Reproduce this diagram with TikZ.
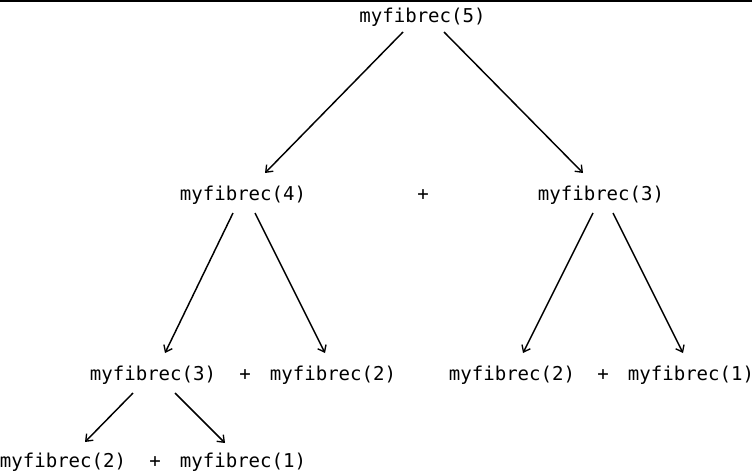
\documentclass[tikz,border=0pt]{standalone}
\usepackage{fontspec}
\setmonofont{DejaVu Sans Mono}
\usetikzlibrary{arrows.meta,calc}
\tikzset{
  call/.style={inner sep=0pt, font=\ttfamily\fontsize{14.3pt}{16pt}\selectfont},
  plus/.style={inner sep=0pt, font=\ttfamily\fontsize{14.3pt}{16pt}\selectfont},
  edge/.style={line width=1.1pt, -{Straight Barb[length=4.5pt,width=7pt,line width=1pt]}},
}
\begin{document}
\begin{tikzpicture}[x=0.75pt,y=-0.75pt]
\useasboundingbox (0,0) rectangle (752,475);
\draw[line width=1.2pt] (0,1) -- (752,1);
% nodes
\node[call] (n5) at (422.5,17) {myfibrec(5)};
\node[call] (n4) at (243,195) {myfibrec(4)};
\node[plus] (p1) at (423,195) {+};
\node[call] (r3) at (601,195) {myfibrec(3)};
\node[call] (a3) at (153,375) {myfibrec(3)};
\node[plus] (p2) at (245,375) {+};
\node[call] (a2) at (333,375) {myfibrec(2)};
\node[call] (b2) at (512,375) {myfibrec(2)};
\node[plus] (p3) at (603,375) {+};
\node[call] (b1) at (691,375) {myfibrec(1)};
\node[call] (c2) at (63,462) {myfibrec(2)};
\node[plus] (p4) at (155,462) {+};
\node[call] (c1) at (243,462) {myfibrec(1)};
% connectors
\draw[edge] ($(n5)+(-19.5,15)$) -- ($(n4)+(22,-22)$);
\draw[edge] ($(n5)+(21.5,15)$) -- ($(r3)+(-18,-22)$);
\draw[edge] ($(n4)+(-10,18)$) -- ($(a3)+(12,-22)$);
\draw[edge] ($(n4)+(12,18)$) -- ($(a2)+(-8,-22)$);
\draw[edge] ($(r3)+(-8,18)$) -- ($(b2)+(11,-22)$);
\draw[edge] ($(r3)+(12,18)$) -- ($(b1)+(-8,-22)$);
\draw[edge] ($(a3)+(-20,18)$) -- ($(c2)+(22,-20)$);
\draw[edge] ($(a3)+(22,18)$) -- ($(c1)+(-18,-19)$);
\end{tikzpicture}
\end{document}
